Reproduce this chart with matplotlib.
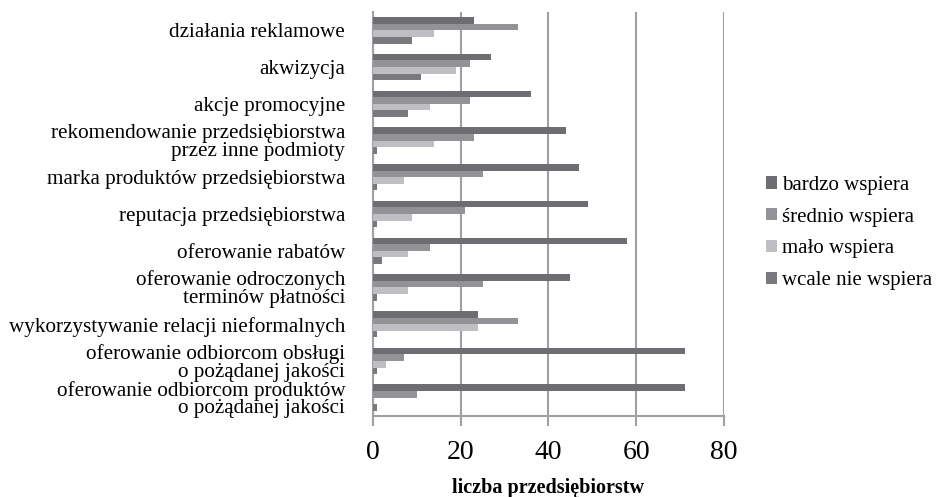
import matplotlib
matplotlib.use("Agg")
import matplotlib.pyplot as plt
from matplotlib.patches import Patch
import numpy as np

plt.rcParams['font.family'] = ['Liberation Serif', 'DejaVu Serif']

categories = [
    "działania reklamowe",
    "akwizycja",
    "akcje promocyjne",
    "rekomendowanie przedsiębiorstwa\nprzez inne podmioty",
    "marka produktów przedsiębiorstwa",
    "reputacja przedsiębiorstwa",
    "oferowanie rabatów",
    "oferowanie odroczonych\nterminów płatności",
    "wykorzystywanie relacji nieformalnych",
    "oferowanie odbiorcom obsługi\no pożądanej jakości",
    "oferowanie odbiorcom produktów\no pożądanej jakości",
]
series_names = ["bardzo wspiera", "średnio wspiera", "mało wspiera", "wcale nie wspiera"]
bardzo = [23, 27, 36, 44, 47, 49, 58, 45, 24, 71, 71]
srednio = [33, 22, 22, 23, 25, 21, 13, 25, 33, 7, 10]
malo = [14, 19, 13, 14, 7, 9, 8, 8, 24, 3, 0]
wcale = [9, 11, 8, 1, 1, 1, 2, 1, 1, 1, 1]
xticks = [0, 20, 40, 60, 80]
xlabel = "liczba przedsiębiorstw"

colors = ["#6e6e72", "#939397", "#bfbfc3", "#7a7a7e"]
series = [bardzo, srednio, malo, wcale]

fig = plt.figure(figsize=(9.37, 4.97), dpi=100)
ax = fig.add_axes([373/937, 1-416/497, (724-373)/937, (416-12)/497])

y = np.arange(len(categories))
h = 0.18
for i, (vals, c, name) in enumerate(zip(series, colors, series_names)):
    ax.barh(y + (i - 1.5) * h, vals, height=h, color=c, label=name, zorder=3)

ax.set_xlim(0, 80)
ax.set_ylim(len(categories) - 0.5, -0.5)
ax.set_xticks(xticks)
ax.set_xticklabels([str(t) for t in xticks], fontsize=20)
ax.set_yticks(y)
ax.set_yticklabels(categories, fontsize=15.2, linespacing=0.92, multialignment='right')
ax.tick_params(axis='y', length=0, pad=20)
ax.tick_params(axis='x', length=7, width=1.5, color='#a0a0a4', pad=10, direction='out')

gridc = '#a0a0a4'
ax.grid(axis='x', color=gridc, linewidth=1.5, zorder=0)
for s in ['top', 'right']:
    ax.spines[s].set_visible(False)
for s in ['left', 'bottom']:
    ax.spines[s].set_color(gridc)
    ax.spines[s].set_linewidth(1.5)

ax.set_xlabel(xlabel, fontsize=14.5, fontweight='bold', labelpad=9.5)

handles = [Patch(facecolor=c, label=n) for c, n in zip(colors, series_names)]
fig.legend(handles=handles, loc='center left', bbox_to_anchor=(766/937, 1-233/497),
           frameon=False, fontsize=15, handlelength=0.55, handleheight=0.55,
           handletextpad=0.2, labelspacing=0.62, borderaxespad=0, borderpad=0)

fig.savefig("out.png", dpi=100)
